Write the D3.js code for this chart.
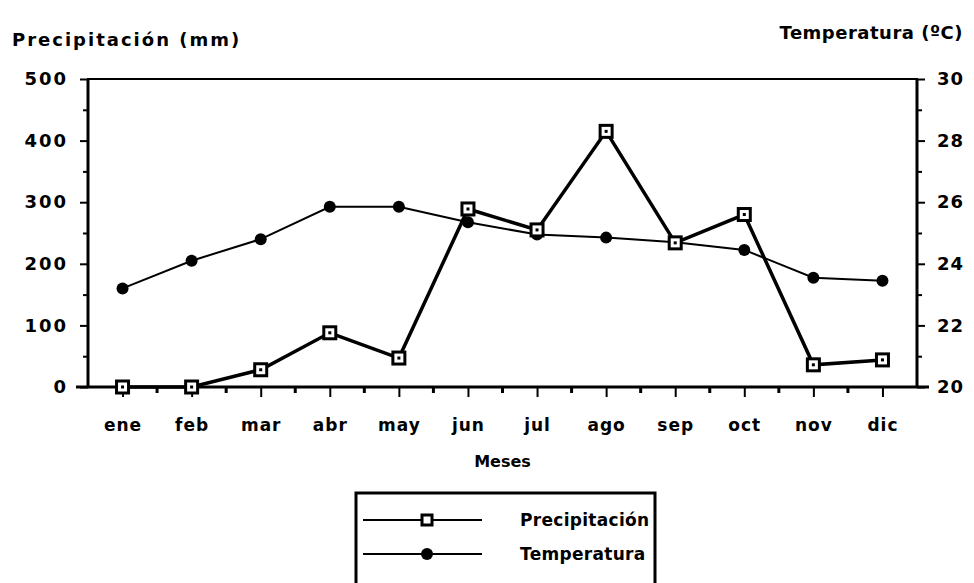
<!DOCTYPE html>
<html>
<head>
<meta charset="utf-8">
<script src="https://cdn.jsdelivr.net/npm/d3@7"></script>
<style>
  body { margin: 0; background: #fff; }
  text { font-family: "DejaVu Sans", "Liberation Sans", Arial, sans-serif; font-weight: bold; fill: #000; }
</style>
</head>
<body>
<div id="chart"></div>
<script>
const months = ["ene", "feb", "mar", "abr", "may", "jun", "jul", "ago", "sep", "oct", "nov", "dic"];
const precipitation = [0, 0, 28, 88, 47, 289, 255, 415, 234, 280, 36, 44];
const temperature = [23.2, 24.1, 24.8, 25.85, 25.85, 25.35, 24.95, 24.85, 24.7, 24.45, 23.55, 23.45];
const precipTicks = [0, 100, 200, 300, 400, 500];
const tempTicks = [20, 22, 24, 26, 28, 30];

const width = 974;
const height = 583;
const margin = {top: 79, right: 57, bottom: 196, left: 88};

const svg = d3.select("#chart").append("svg")
    .attr("width", width)
    .attr("height", height);

const x = d3.scalePoint()
    .domain(months)
    .range([margin.left, width - margin.right])
    .padding(0.5);

const yP = d3.scaleLinear().domain([0, 500]).range([height - margin.bottom, margin.top]);
const yT = d3.scaleLinear().domain([20, 30]).range([height - margin.bottom, margin.top]);

const x0 = margin.left, x1 = width - margin.right;
const y0 = height - margin.bottom, y1 = margin.top;

// frame
svg.append("rect")
    .attr("x", x0).attr("y", y1)
    .attr("width", x1 - x0).attr("height", y0 - y1)
    .attr("fill", "none").attr("stroke", "#000").attr("stroke-width", 2);
svg.append("line").attr("x1", x0).attr("x2", x0).attr("y1", y1).attr("y2", y0)
    .attr("stroke", "#000").attr("stroke-width", 3);
svg.append("line").attr("x1", x1).attr("x2", x1).attr("y1", y1).attr("y2", y0)
    .attr("stroke", "#000").attr("stroke-width", 3);
svg.append("line").attr("x1", x0 - 12).attr("x2", x1 + 12).attr("y1", y0).attr("y2", y0)
    .attr("stroke", "#000").attr("stroke-width", 3);

// left axis
const leftAxis = svg.append("g")
    .attr("transform", `translate(${x0},0)`)
    .call(d3.axisLeft(yP).tickValues(d3.range(0, 501, 50)).tickSize(6).tickFormat(d => precipTicks.includes(d) ? d : ""));
leftAxis.select(".domain").remove();
leftAxis.selectAll(".tick line").attr("stroke-width", 2).attr("x2", d => d % 100 === 0 ? -8 : -5);
leftAxis.selectAll(".tick text").attr("x", -20).style("font-size", "18px").style("letter-spacing", "2px");

// right axis
const rightAxis = svg.append("g")
    .attr("transform", `translate(${x1},0)`)
    .call(d3.axisRight(yT).tickValues(d3.range(20, 30.5, 1)).tickSize(6).tickFormat(d => tempTicks.includes(d) ? d : ""));
rightAxis.select(".domain").remove();
rightAxis.selectAll(".tick line").attr("stroke-width", 2).attr("x2", d => d % 2 === 0 ? 8 : 5);
rightAxis.selectAll(".tick text").attr("x", 20).style("font-size", "18px").style("letter-spacing", "1px");

// bottom axis with minor ticks between months
const step = x.step();
const minor = months.slice(0, -1).map(m => x(m) + step / 2);
svg.append("g").selectAll("line").data(minor).join("line")
    .attr("x1", d => d).attr("x2", d => d)
    .attr("y1", y0).attr("y2", y0 + 6)
    .attr("stroke", "#000").attr("stroke-width", 3);
const bottomAxis = svg.append("g")
    .attr("transform", `translate(0,${y0})`)
    .call(d3.axisBottom(x).tickSize(10).tickPadding(22));
bottomAxis.select(".domain").remove();
bottomAxis.selectAll(".tick line").attr("stroke-width", 2);
bottomAxis.selectAll(".tick text").style("font-size", "17px").style("letter-spacing", "1px");

// titles
svg.append("text").attr("x", 12).attr("y", 46)
    .style("font-size", "18px").style("letter-spacing", "2px")
    .text("Precipitación  (mm)");
svg.append("text").attr("x", 963).attr("y", 39).attr("text-anchor", "end")
    .style("font-size", "18px").style("letter-spacing", "0.5px")
    .text("Temperatura  (ºC)");
svg.append("text").attr("x", (x0 + x1) / 2).attr("y", 467).attr("text-anchor", "middle")
    .style("font-size", "16px")
    .text("Meses");

// temperature line
const lineT = d3.line().x((d, i) => x(months[i])).y(d => yT(d));
svg.append("path").datum(temperature)
    .attr("d", lineT).attr("fill", "none").attr("stroke", "#000").attr("stroke-width", 2);
svg.append("g").selectAll("circle").data(temperature).join("circle")
    .attr("cx", (d, i) => x(months[i])).attr("cy", d => yT(d))
    .attr("r", 6).attr("fill", "#000");

// precipitation line
const lineP = d3.line().x((d, i) => x(months[i])).y(d => yP(d));
svg.append("path").datum(precipitation)
    .attr("d", lineP).attr("fill", "none").attr("stroke", "#000").attr("stroke-width", 3.5);
const sq = svg.append("g").selectAll("g").data(precipitation).join("g")
    .attr("transform", (d, i) => `translate(${x(months[i])},${yP(d)})`);
sq.append("rect").attr("x", -6).attr("y", -6).attr("width", 12).attr("height", 12)
    .attr("fill", "#fff").attr("stroke", "#000").attr("stroke-width", 3);
sq.append("rect").attr("x", -1.5).attr("y", -1.5).attr("width", 3).attr("height", 3).attr("fill", "#000");

// legend
const legend = svg.append("g");
legend.append("rect").attr("x", 356).attr("y", 493).attr("width", 299).attr("height", 110)
    .attr("fill", "#fff").attr("stroke", "#000").attr("stroke-width", 3);
const legendItems = [
    {label: "Precipitación", y: 520, type: "square"},
    {label: "Temperatura", y: 554, type: "circle"}
];
legendItems.forEach(item => {
    legend.append("line").attr("x1", 363).attr("x2", 482).attr("y1", item.y).attr("y2", item.y)
        .attr("stroke", "#000").attr("stroke-width", 2);
    if (item.type === "square") {
        legend.append("rect").attr("x", 422).attr("y", item.y - 5).attr("width", 10).attr("height", 10)
            .attr("fill", "#fff").attr("stroke", "#000").attr("stroke-width", 3);
    } else {
        legend.append("circle").attr("cx", 427).attr("cy", item.y).attr("r", 6).attr("fill", "#000");
    }
    legend.append("text").attr("x", 520).attr("y", item.y).attr("dy", "0.35em")
        .style("font-size", "17px").style("letter-spacing", "0.3px")
        .text(item.label);
});
</script>
</body>
</html>
